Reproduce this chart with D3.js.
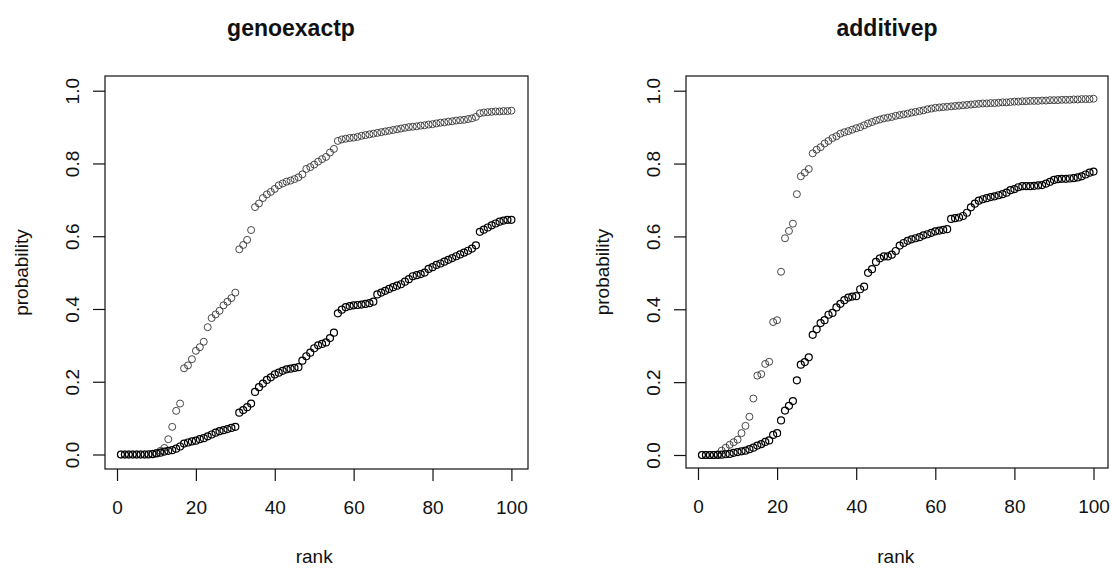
<!DOCTYPE html>
<html>
<head>
<meta charset="utf-8">
<script src="https://cdn.jsdelivr.net/npm/d3@7"></script>
<style>
  body { margin: 0; background: white; }
  svg text { font-family: "Liberation Sans", Arial, sans-serif; fill: #111; }
</style>
</head>
<body>
<script>
// ranks on the x axis, 1..100
const ranks = d3.range(1, 101)

const xTicks = [0, 20, 40, 60, 80, 100]
const yTicks = [0, 0.2, 0.4, 0.6, 0.8, 1.0]

// genoexactp panel
const genoUpper = [
  0.000, 0.000, 0.000, 0.000, 0.000, 0.000, 0.000, 0.001, 0.002, 0.004,
  0.010, 0.018, 0.042, 0.076, 0.120, 0.140, 0.237, 0.245, 0.262, 0.285,
  0.295, 0.310, 0.350, 0.375, 0.385, 0.395, 0.410, 0.420, 0.430, 0.445,
  0.564, 0.576, 0.590, 0.617, 0.680, 0.690, 0.705, 0.715, 0.722, 0.730,
  0.740, 0.745, 0.750, 0.753, 0.757, 0.762, 0.770, 0.785, 0.790, 0.797,
  0.805, 0.812, 0.818, 0.830, 0.840, 0.862, 0.866, 0.868, 0.870, 0.871,
  0.873, 0.876, 0.878, 0.880, 0.882, 0.884, 0.886, 0.888, 0.890, 0.892,
  0.894, 0.896, 0.898, 0.900, 0.901, 0.902, 0.904, 0.905, 0.907, 0.908,
  0.910, 0.912, 0.913, 0.915, 0.916, 0.918, 0.919, 0.920, 0.922, 0.924,
  0.928, 0.938, 0.940, 0.941, 0.942, 0.943, 0.943, 0.944, 0.944, 0.945
]
const genoLower = [
  0.000, 0.000, 0.000, 0.000, 0.000, 0.000, 0.000, 0.000, 0.001, 0.003,
  0.005, 0.008, 0.010, 0.012, 0.016, 0.022, 0.030, 0.033, 0.036, 0.038,
  0.042, 0.045, 0.050, 0.055, 0.060, 0.064, 0.067, 0.070, 0.073, 0.076,
  0.115, 0.122, 0.130, 0.140, 0.172, 0.185, 0.195, 0.205, 0.212, 0.220,
  0.225, 0.230, 0.234, 0.236, 0.238, 0.240, 0.258, 0.270, 0.280, 0.292,
  0.300, 0.304, 0.308, 0.320, 0.335, 0.388, 0.398, 0.405, 0.408, 0.410,
  0.411, 0.412, 0.414, 0.416, 0.420, 0.440, 0.445, 0.450, 0.455, 0.460,
  0.464, 0.468, 0.475, 0.482, 0.490, 0.493, 0.496, 0.500, 0.510, 0.515,
  0.521, 0.525, 0.530, 0.535, 0.540, 0.545, 0.550, 0.555, 0.560, 0.566,
  0.575, 0.612, 0.618, 0.624, 0.630, 0.635, 0.640, 0.643, 0.645, 0.645
]

// additivep panel
const addUpper = [
  0.000, 0.000, 0.000, 0.000, 0.002, 0.012, 0.020, 0.028, 0.035, 0.042,
  0.060, 0.080, 0.105, 0.155, 0.218, 0.222, 0.250, 0.256, 0.365, 0.370,
  0.503, 0.595, 0.615, 0.635, 0.716, 0.765, 0.775, 0.785, 0.828, 0.838,
  0.845, 0.855, 0.862, 0.870, 0.875, 0.882, 0.886, 0.889, 0.893, 0.897,
  0.900, 0.905, 0.910, 0.914, 0.918, 0.921, 0.924, 0.926, 0.928, 0.931,
  0.933, 0.935, 0.937, 0.940, 0.942, 0.944, 0.946, 0.949, 0.951, 0.953,
  0.954, 0.955, 0.956, 0.957, 0.958, 0.959, 0.960, 0.961, 0.962, 0.963,
  0.964, 0.965, 0.965, 0.966, 0.966, 0.967, 0.968, 0.968, 0.969, 0.970,
  0.970, 0.971, 0.971, 0.972, 0.972, 0.972, 0.973, 0.973, 0.974, 0.974,
  0.974, 0.975, 0.975, 0.975, 0.976, 0.976, 0.977, 0.977, 0.977, 0.978
]
const addLower = [
  0.000, 0.000, 0.000, 0.000, 0.000, 0.001, 0.002, 0.003, 0.006, 0.008,
  0.010, 0.012, 0.016, 0.020, 0.026, 0.030, 0.036, 0.040, 0.055, 0.060,
  0.095, 0.122, 0.135, 0.148, 0.205, 0.248, 0.255, 0.268, 0.330, 0.345,
  0.362, 0.370, 0.385, 0.390, 0.405, 0.415, 0.425, 0.432, 0.435, 0.436,
  0.455, 0.462, 0.500, 0.510, 0.530, 0.540, 0.545, 0.545, 0.550, 0.560,
  0.575, 0.582, 0.588, 0.592, 0.595, 0.598, 0.603, 0.606, 0.610, 0.614,
  0.616, 0.618, 0.620, 0.648, 0.650, 0.652, 0.656, 0.665, 0.680, 0.690,
  0.698, 0.702, 0.705, 0.708, 0.710, 0.713, 0.716, 0.720, 0.727, 0.730,
  0.735, 0.738, 0.738, 0.738, 0.739, 0.740, 0.741, 0.745, 0.750, 0.755,
  0.757, 0.758, 0.758, 0.759, 0.760, 0.762, 0.765, 0.770, 0.775, 0.778
]

const titles = ["genoexactp", "additivep"]

const panels = [
  {title: titles[0], upper: genoUpper, lower: genoLower,
   box: [105, 76, 528, 469], xr: [117, 511.4], yr: [454.5, 90.7], titleX: 291},
  {title: titles[1], upper: addUpper, lower: addLower,
   box: [686, 76, 1108, 468], xr: [698, 1093.5], yr: [455, 90.7], titleX: 887}
]

const svg = d3.select("body").append("svg")
    .attr("width", 1112)
    .attr("height", 571)

panels.forEach(p => {
    let x = d3.scaleLinear().domain([0, 100]).range(p.xr)
    let y = d3.scaleLinear().domain([0, 1]).range(p.yr)
    let [x0, y0, x1, y1] = p.box
    let g = svg.append("g")

    // points first, box on top like R does
    const drawSeries = (vals, colour, sw) => {
        g.append("g").selectAll("circle")
            .data(vals)
            .enter()
            .append("circle")
                .attr("cx", (d, i) => x(ranks[i]))
                .attr("cy", d => y(d))
                .attr("r", 3.5)
                .attr("fill", "none")
                .attr("stroke", colour)
                .attr("stroke-width", sw)
    }
    drawSeries(p.upper, "#333", 0.9)
    drawSeries(p.lower, "#000", 1.2)

    g.append("rect")
        .attr("x", x0).attr("y", y0)
        .attr("width", x1 - x0).attr("height", y1 - y0)
        .attr("fill", "none")
        .attr("stroke", "#111")
        .attr("stroke-width", 1.2)

    // x axis
    let xAxis = g.append("g")
        .attr("transform", "translate(0," + y1 + ")")
        .call(d3.axisBottom(x).tickValues(xTicks).tickSize(12).tickPadding(20).tickFormat(d3.format("d")))
    xAxis.select(".domain").remove()
    xAxis.selectAll("line").attr("stroke", "#111").attr("stroke-width", 1.2)
    xAxis.selectAll("text")
        .style("font-size", "19px")
        .attr("fill", "#111")

    // y axis, labels turned like R's las=0
    let yAxis = g.append("g")
        .attr("transform", "translate(" + x0 + ",0)")
        .call(d3.axisLeft(y).tickValues(yTicks).tickSize(12).tickFormat(d3.format(".1f")))
    yAxis.select(".domain").remove()
    yAxis.selectAll("line").attr("stroke", "#111").attr("stroke-width", 1.2)
    yAxis.selectAll("text")
        .style("font-size", "19px")
        .attr("fill", "#111")
        .attr("text-anchor", "middle")
        .attr("x", 0).attr("dy", 0)
        .attr("transform", "translate(-33,0) rotate(-90)")
        .attr("y", 0)
        .attr("dominant-baseline", "central")

    g.append("text")
        .attr("x", p.titleX)
        .attr("y", 36)
        .attr("text-anchor", "middle")
        .style("font-size", "23px")
        .style("font-weight", "bold")
        .text(p.title)

    g.append("text")
        .attr("x", (p.xr[0] + p.xr[1]) / 2)
        .attr("y", 563)
        .attr("text-anchor", "middle")
        .style("font-size", "19px")
        .text("rank")

    g.append("text")
        .attr("transform", "translate(" + (x0 - 77) + "," + ((y0 + y1) / 2) + ") rotate(-90)")
        .attr("text-anchor", "middle")
        .style("font-size", "19px")
        .text("probability")
})
</script>
</body>
</html>
